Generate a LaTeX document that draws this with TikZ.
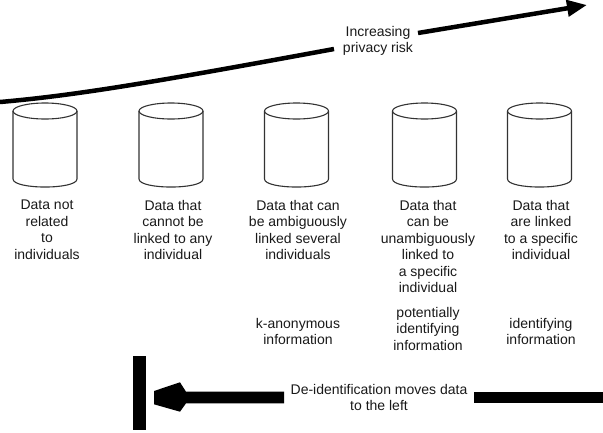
\documentclass[tikz,border=0pt]{standalone}
\usepackage{fontspec}
\setmainfont{Liberation Sans}
\usetikzlibrary{arrows.meta}
\begin{document}
\begin{tikzpicture}[x=1pt,y=-1pt,
  lbl/.style={anchor=north,inner sep=0pt,align=center,font=\fontsize{14}{16.5}\selectfont,text=black!90},
  cylline/.style={draw=black!80,line width=1.1pt},
  riskline/.style={line width=4.5pt,line cap=butt}]
\useasboundingbox (0,0) rectangle (603,432);
% cylinders
\foreach \cx/\n in {45/a,171/b,296.5/c,424.5/d,539.5/e}{
  \draw[cylline] (\cx,111) ellipse[x radius=32,y radius=8];
  \draw[cylline] (\cx-32,111) -- (\cx-32,179) .. controls (\cx-32,189.7) and (\cx+32,189.7) .. (\cx+32,179) -- (\cx+32,111);
  \coordinate (cyl\n) at (\cx,190);
}
% top arrow
\node[lbl] (risk) at (378,26) {Increasing\\privacy risk};
\coordinate (r0) at (0,102);
\coordinate (r1) at (334,49);
\coordinate (r2) at (418,33);
\coordinate (r3) at (587,5);
\draw[riskline] (r0) .. controls (80,95) and (160,81) .. (r1);
\draw[riskline,-{Triangle[length=20pt,width=16pt]}] (r2) -- (r3);
% column texts
\node[lbl] (t1) at (47,200) {Data not\\related\\to\\individuals};
\node[lbl] (t2) at (173,200) {Data that\\cannot be\\linked to any\\individual};
\node[lbl] (t3) at (298,200) {Data that can\\be ambiguously\\linked several\\individuals};
\node[lbl] (t4) at (428,200) {Data that\\can be\\unambiguously\\linked to\\a specific\\individual};
\node[lbl] (t5) at (541,200) {Data that\\are linked\\to a specific\\individual};
\node[lbl] (k3) at (298,318) {k-anonymous\\information};
\node[lbl] (k4) at (428,307) {potentially\\identifying\\information};
\node[lbl] (k5) at (541,318) {identifying\\information};
% bottom arrow
\node[fill=black,inner sep=0pt,minimum width=13pt,minimum height=74pt,anchor=north west] (bar) at (133,356) {};
\node[lbl] (deid) at (379,384) {De-identification moves data\\to the left};
\fill (154,391) -- (180,382.3) -- (186,391.7) -- (284,391.7) -- (284,403.3) -- (186,403.3) -- (180,411.7) -- (154,404.3) -- cycle;
\fill (474,391.7) rectangle (603,403.3);
\end{tikzpicture}
\end{document}
